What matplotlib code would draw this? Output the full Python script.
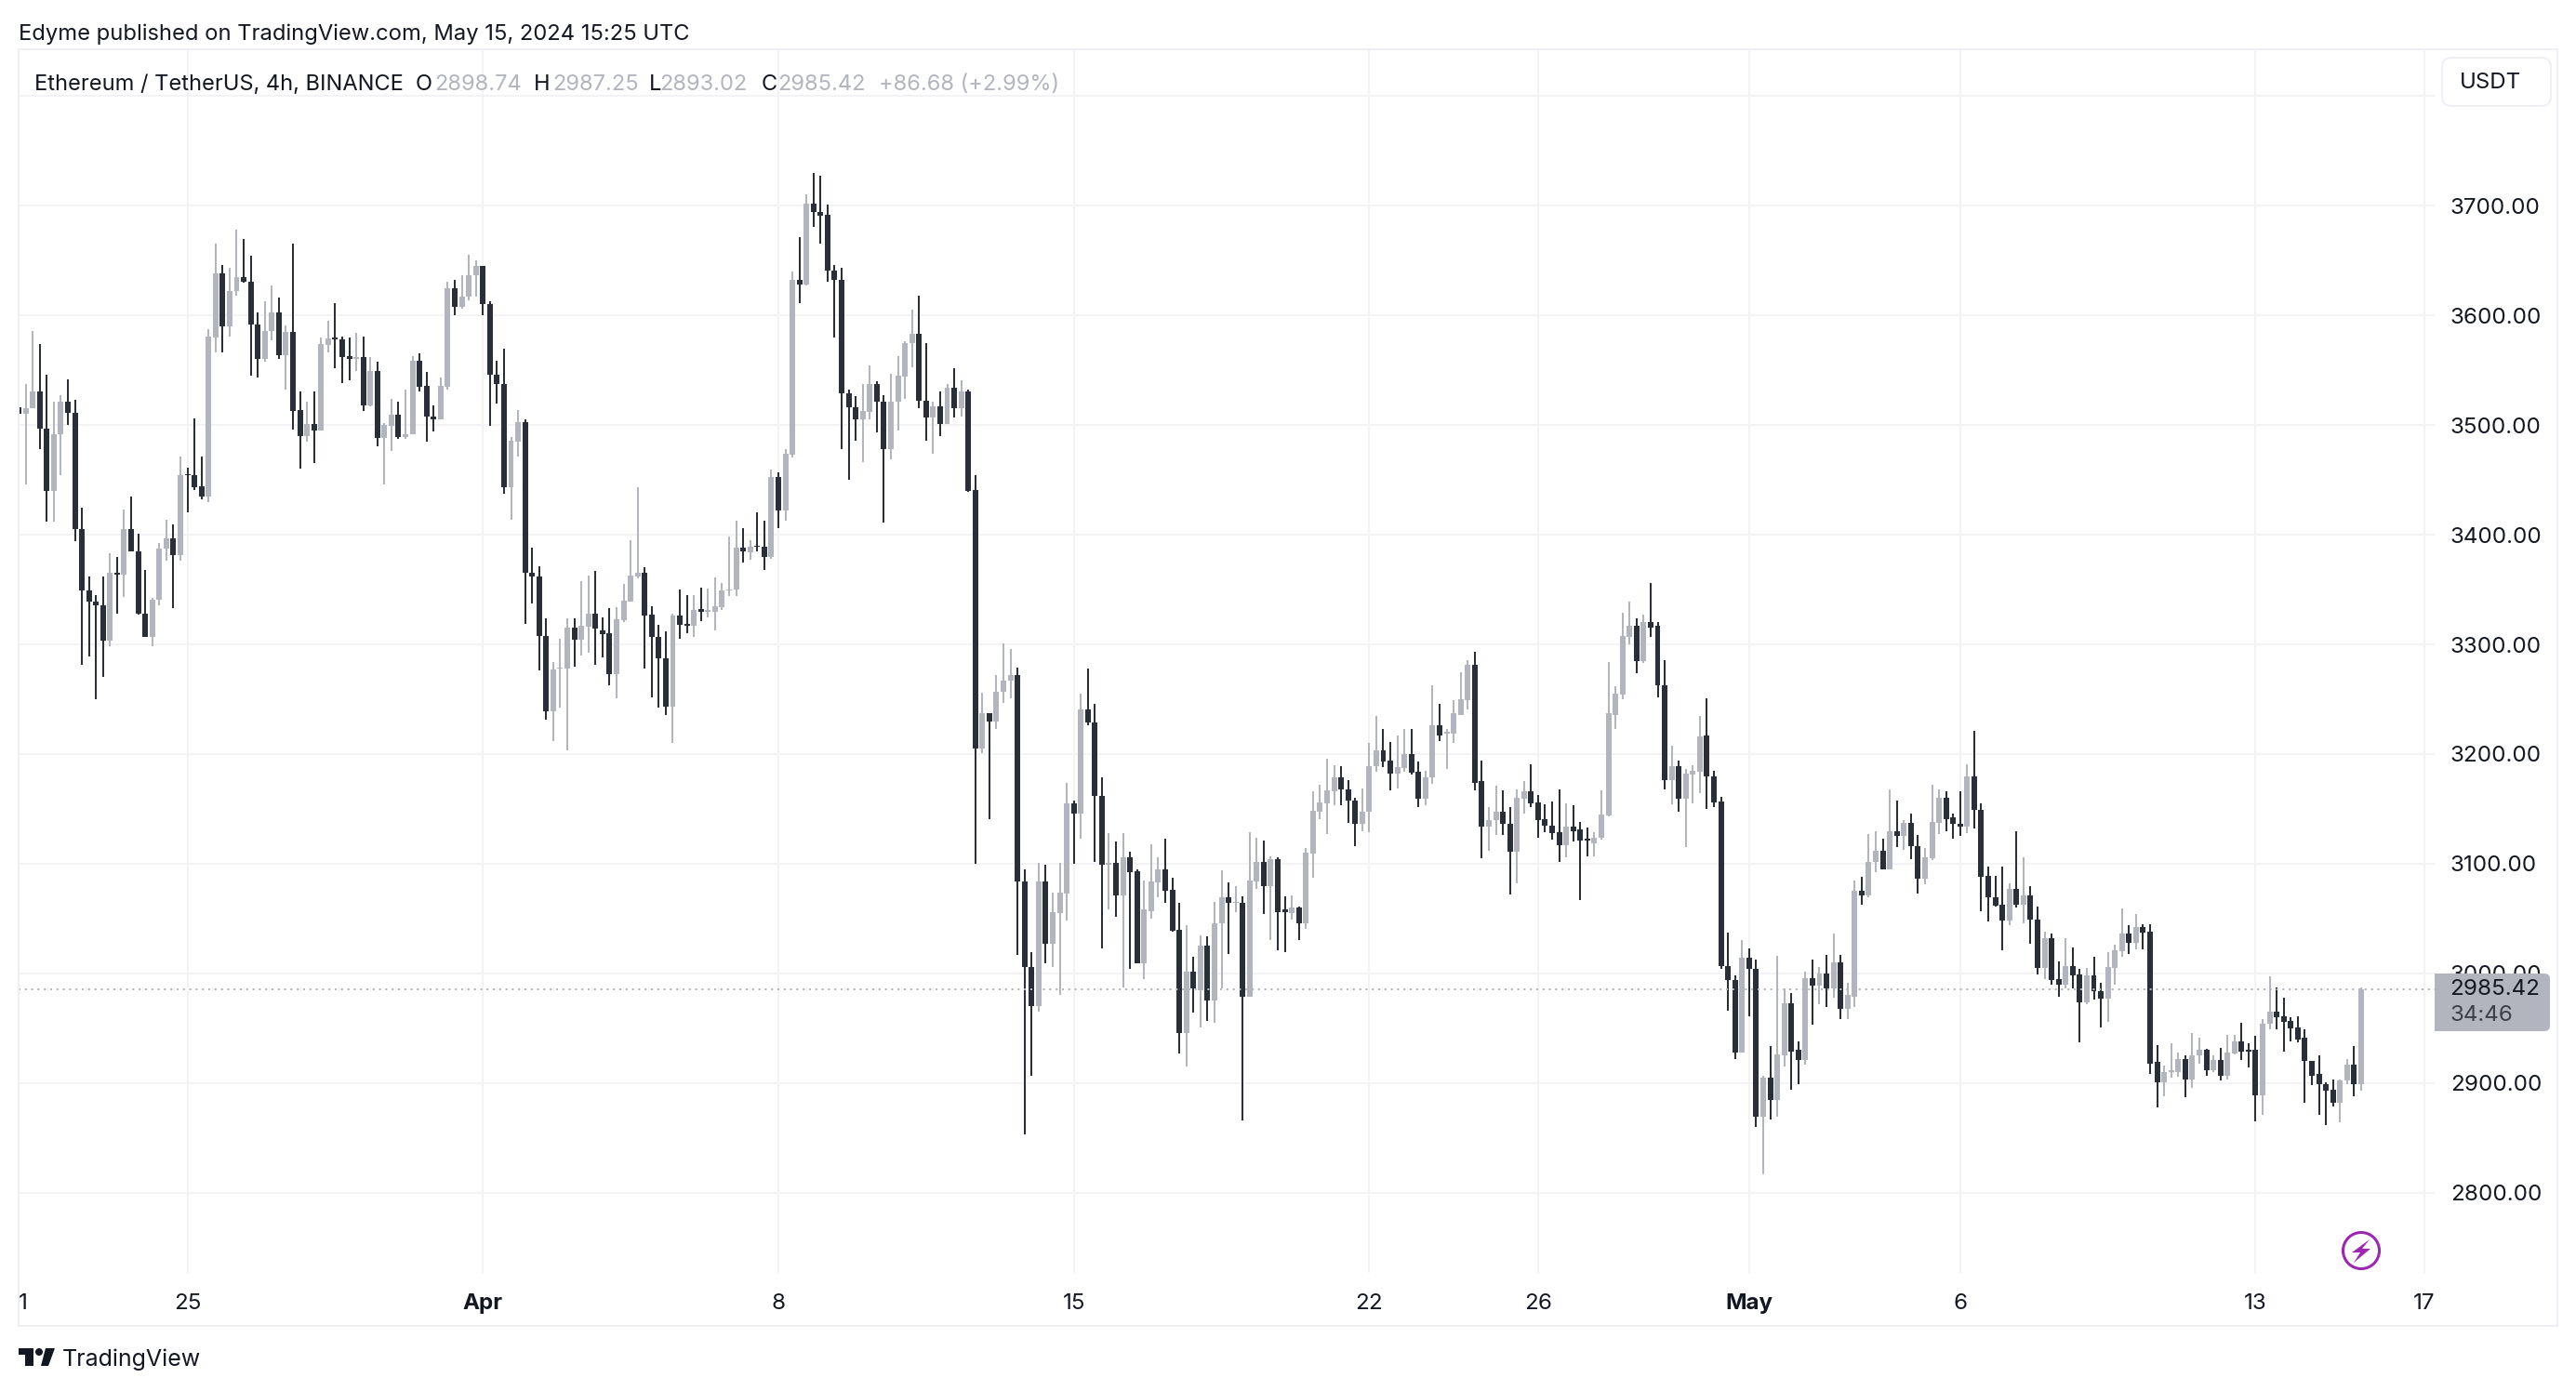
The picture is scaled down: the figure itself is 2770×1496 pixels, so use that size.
import matplotlib
matplotlib.use('Agg')
import matplotlib.pyplot as plt
from matplotlib.patches import Circle, FancyBboxPatch, Polygon, Rectangle

# ETHUSDT 4h candles, 2024-03-21 00:00 onwards
opens = [
    3516, 3510, 3515, 3531, 3497, 3440, 3492, 3521, 3511, 3405,
    3349, 3339, 3336, 3303, 3365, 3364, 3405, 3385, 3328, 3307,
    3341, 3387, 3397, 3381, 3455, 3454, 3444, 3435, 3580, 3638,
    3590, 3622, 3635, 3631, 3592, 3560, 3586, 3603, 3564, 3585,
    3514, 3490, 3501, 3495, 3573, 3580, 3578, 3563, 3560, 3562,
    3518, 3549, 3488, 3499, 3509, 3489, 3492, 3559, 3536, 3508,
    3505, 3535, 3625, 3608, 3617, 3637, 3645, 3610, 3546, 3537,
    3443, 3485, 3503, 3365, 3362, 3308, 3239, 3278, 3278, 3315,
    3304, 3316, 3328, 3313, 3310, 3273, 3322, 3339, 3362, 3365,
    3327, 3307, 3287, 3243, 3326, 3319, 3317, 3332, 3330, 3330,
    3334, 3349, 3350, 3388, 3384, 3390, 3389, 3380, 3453, 3422,
    3473, 3632, 3628, 3702, 3694, 3692, 3641, 3632, 3529, 3516,
    3505, 3512, 3537, 3521, 3478, 3521, 3544, 3575, 3583, 3522,
    3507, 3517, 3501, 3534, 3515, 3531, 3441, 3205, 3237, 3230,
    3257, 3267, 3272, 3084, 3006, 2970, 3084, 3027, 3055, 3073,
    3155, 3146, 3241, 3229, 3162, 3099, 3101, 3071, 3106, 3093,
    3009, 3057, 3083, 3095, 3076, 3040, 2946, 3002, 2985, 3025,
    2975, 3046, 3069, 3064, 3064, 2979, 3084, 3102, 3080, 3104,
    3058, 3055, 3060, 3046, 3109, 3147, 3155, 3166, 3179, 3168,
    3158, 3136, 3147, 3189, 3203, 3194, 3182, 3187, 3200, 3184,
    3159, 3179, 3226, 3219, 3219, 3236, 3249, 3281, 3175, 3134,
    3140, 3147, 3136, 3111, 3159, 3166, 3156, 3141, 3135, 3129,
    3117, 3134, 3131, 3123, 3119, 3124, 3144, 3236, 3254, 3307,
    3317, 3285, 3320, 3317, 3263, 3176, 3189, 3159, 3181, 3184,
    3217, 3180, 3157, 3007, 2994, 2928, 3014, 3004, 2869, 2905,
    2885, 2925, 2973, 2930, 2921, 2996, 2989, 3000, 2986, 3010,
    2968, 2979, 3075, 3071, 3102, 3112, 3095, 3130, 3125, 3137,
    3116, 3086, 3105, 3137, 3160, 3142, 3136, 3134, 3180, 3149,
    3089, 3069, 3063, 3048, 3077, 3063, 3071, 3049, 3005, 3032,
    2995, 2990, 3007, 2999, 2974, 2998, 2984, 2977, 3005, 3020,
    3036, 3028, 3042, 3038, 2919, 2901, 2910, 2910, 2922, 2903,
    2925, 2930, 2912, 2921, 2907, 2927, 2938, 2930, 2930, 2889,
    2954, 2965, 2961, 2957, 2951, 2941, 2920, 2908, 2899, 2894,
    2882, 2902, 2917, 2898.74,
]
highs = [
    3516, 3537, 3586, 3574, 3546, 3521, 3527, 3542, 3523, 3425,
    3362, 3345, 3362, 3383, 3380, 3423, 3435, 3401, 3368, 3342,
    3392, 3414, 3409, 3471, 3461, 3506, 3471, 3587, 3665, 3646,
    3643, 3678, 3670, 3654, 3603, 3613, 3627, 3616, 3591, 3665,
    3531, 3521, 3531, 3580, 3595, 3611, 3581, 3580, 3584, 3581,
    3562, 3558, 3502, 3524, 3521, 3532, 3563, 3565, 3548, 3518,
    3543, 3631, 3632, 3637, 3655, 3650, 3645, 3613, 3559, 3570,
    3489, 3514, 3505, 3388, 3371, 3324, 3284, 3305, 3324, 3324,
    3358, 3363, 3367, 3325, 3333, 3334, 3355, 3395, 3443, 3370,
    3335, 3318, 3312, 3328, 3350, 3345, 3345, 3352, 3351, 3361,
    3356, 3398, 3413, 3406, 3395, 3420, 3413, 3459, 3457, 3478,
    3640, 3671, 3710, 3730, 3727, 3701, 3646, 3643, 3532, 3526,
    3537, 3554, 3540, 3527, 3547, 3563, 3576, 3605, 3618, 3575,
    3521, 3531, 3537, 3552, 3541, 3532, 3454, 3256, 3237, 3272,
    3301, 3296, 3279, 3095, 3019, 3101, 3099, 3074, 3101, 3174,
    3158, 3255, 3278, 3246, 3179, 3128, 3120, 3128, 3111, 3095,
    3085, 3118, 3106, 3123, 3087, 3064, 3044, 3015, 3035, 3034,
    3065, 3094, 3083, 3080, 3070, 3129, 3124, 3121, 3107, 3106,
    3070, 3071, 3061, 3114, 3166, 3172, 3196, 3190, 3189, 3176,
    3160, 3169, 3210, 3235, 3223, 3211, 3217, 3223, 3223, 3193,
    3185, 3263, 3246, 3223, 3249, 3275, 3286, 3293, 3194, 3152,
    3171, 3167, 3152, 3168, 3175, 3191, 3163, 3154, 3157, 3168,
    3155, 3153, 3138, 3133, 3129, 3167, 3284, 3262, 3329, 3339,
    3324, 3327, 3356, 3320, 3286, 3208, 3194, 3186, 3190, 3235,
    3251, 3185, 3161, 3037, 2998, 3030, 3023, 3013, 2907, 2934,
    3016, 2986, 2982, 2938, 3002, 3013, 3006, 3017, 3036, 3017,
    2991, 3085, 3088, 3127, 3130, 3123, 3168, 3158, 3140, 3146,
    3126, 3114, 3172, 3168, 3166, 3146, 3166, 3191, 3221, 3155,
    3097, 3089, 3097, 3082, 3130, 3106, 3080, 3061, 3038, 3036,
    3011, 3032, 3024, 3004, 3005, 3015, 2991, 3019, 3026, 3059,
    3044, 3054, 3045, 3045, 2935, 2916, 2936, 2928, 2925, 2946,
    2941, 2931, 2925, 2932, 2944, 2944, 2955, 2936, 2943, 2958,
    2997, 2987, 2978, 2960, 2961, 2949, 2920, 2925, 2901, 2903,
    2903, 2922, 2934, 2987.25,
]
lows = [
    3510, 3446, 3515, 3478, 3412, 3412, 3454, 3500, 3394, 3281,
    3289, 3250, 3270, 3298, 3328, 3343, 3385, 3327, 3307, 3298,
    3336, 3376, 3333, 3376, 3420, 3441, 3432, 3430, 3566, 3566,
    3581, 3618, 3630, 3545, 3543, 3558, 3577, 3560, 3532, 3496,
    3460, 3485, 3465, 3495, 3566, 3552, 3538, 3541, 3549, 3513,
    3517, 3481, 3446, 3476, 3487, 3487, 3492, 3531, 3485, 3494,
    3505, 3532, 3600, 3606, 3614, 3617, 3600, 3499, 3520, 3437,
    3414, 3471, 3319, 3337, 3276, 3231, 3212, 3242, 3203, 3280,
    3290, 3292, 3281, 3288, 3263, 3251, 3320, 3339, 3360, 3278,
    3252, 3242, 3236, 3210, 3305, 3310, 3307, 3321, 3325, 3313,
    3331, 3344, 3344, 3375, 3377, 3385, 3368, 3378, 3406, 3413,
    3470, 3611, 3627, 3681, 3665, 3631, 3580, 3478, 3450, 3486,
    3466, 3505, 3493, 3411, 3469, 3495, 3524, 3553, 3515, 3486,
    3474, 3490, 3501, 3507, 3508, 3439, 3100, 3201, 3141, 3223,
    3247, 3251, 3017, 2853, 2907, 2965, 3009, 3006, 2980, 3048,
    3100, 3123, 3226, 3102, 3023, 3058, 3052, 2987, 3004, 3009,
    2995, 3050, 3069, 3064, 3038, 2927, 2915, 2964, 2951, 2957,
    2955, 2986, 3018, 3056, 2866, 2979, 3077, 3054, 3030, 3021,
    3019, 3049, 3030, 3041, 3087, 3141, 3127, 3153, 3153, 3137,
    3116, 3130, 3129, 3184, 3188, 3167, 3169, 3184, 3181, 3152,
    3153, 3173, 3212, 3186, 3210, 3236, 3241, 3167, 3105, 3112,
    3126, 3126, 3072, 3082, 3146, 3152, 3124, 3129, 3122, 3102,
    3106, 3120, 3067, 3107, 3107, 3122, 3143, 3223, 3250, 3300,
    3274, 3283, 3307, 3252, 3168, 3154, 3147, 3115, 3155, 3164,
    3150, 3152, 3004, 2966, 2922, 2928, 2961, 2860, 2817, 2867,
    2869, 2915, 2894, 2899, 2917, 2953, 2972, 2969, 2978, 2958,
    2958, 2969, 3063, 3069, 3092, 3095, 3095, 3115, 3113, 3104,
    3073, 3081, 3103, 3127, 3130, 3123, 3125, 3128, 3132, 3057,
    3047, 3061, 3021, 3044, 3060, 3046, 3027, 2999, 2995, 2990,
    2979, 2986, 2986, 2937, 2972, 2976, 2951, 2956, 2990, 3015,
    3018, 3022, 3022, 2908, 2878, 2888, 2905, 2906, 2887, 2896,
    2918, 2907, 2910, 2902, 2903, 2926, 2921, 2914, 2865, 2871,
    2949, 2949, 2929, 2938, 2937, 2882, 2898, 2871, 2862, 2879,
    2864, 2899, 2888, 2893.02,
]
closes = [
    3510, 3515, 3531, 3497, 3440, 3492, 3521, 3511, 3405, 3349,
    3339, 3336, 3303, 3365, 3364, 3405, 3385, 3328, 3307, 3341,
    3387, 3397, 3381, 3454, 3454, 3443, 3435, 3581, 3638, 3590,
    3622, 3635, 3631, 3592, 3560, 3586, 3603, 3564, 3585, 3513,
    3490, 3501, 3495, 3574, 3579, 3578, 3562, 3560, 3562, 3518,
    3549, 3488, 3500, 3509, 3489, 3492, 3559, 3535, 3508, 3505,
    3536, 3625, 3608, 3617, 3637, 3645, 3610, 3546, 3537, 3443,
    3486, 3503, 3365, 3362, 3308, 3239, 3277, 3279, 3315, 3304,
    3317, 3328, 3314, 3309, 3273, 3323, 3340, 3363, 3365, 3326,
    3307, 3287, 3243, 3326, 3318, 3317, 3331, 3330, 3331, 3335,
    3349, 3350, 3388, 3385, 3389, 3389, 3380, 3453, 3422, 3474,
    3632, 3628, 3702, 3694, 3691, 3641, 3632, 3529, 3516, 3505,
    3513, 3537, 3521, 3478, 3521, 3545, 3575, 3583, 3522, 3507,
    3517, 3501, 3534, 3515, 3531, 3440, 3205, 3237, 3230, 3257,
    3267, 3272, 3084, 3006, 2970, 3084, 3027, 3056, 3074, 3155,
    3146, 3241, 3229, 3162, 3099, 3101, 3071, 3106, 3092, 3009,
    3058, 3084, 3095, 3075, 3039, 2946, 3002, 2986, 3025, 2975,
    3046, 3069, 3064, 3065, 2979, 3085, 3102, 3080, 3104, 3056,
    3056, 3060, 3046, 3110, 3148, 3156, 3167, 3179, 3168, 3158,
    3136, 3147, 3189, 3203, 3193, 3182, 3188, 3200, 3183, 3159,
    3179, 3226, 3217, 3220, 3237, 3250, 3281, 3174, 3134, 3140,
    3147, 3136, 3111, 3160, 3166, 3155, 3140, 3135, 3128, 3117,
    3134, 3130, 3121, 3121, 3124, 3145, 3237, 3255, 3308, 3317,
    3285, 3320, 3315, 3263, 3176, 3189, 3159, 3182, 3185, 3216,
    3180, 3156, 3007, 2994, 2928, 3014, 3004, 2869, 2905, 2885,
    2926, 2973, 2929, 2921, 2996, 2989, 3000, 2986, 3010, 2968,
    2980, 3075, 3071, 3102, 3112, 3095, 3130, 3125, 3137, 3116,
    3086, 3106, 3138, 3160, 3141, 3136, 3134, 3180, 3149, 3088,
    3069, 3062, 3048, 3077, 3063, 3071, 3049, 3005, 3032, 2994,
    2990, 3007, 2998, 2974, 2998, 2984, 2977, 3006, 3021, 3036,
    3028, 3042, 3037, 2918, 2901, 2910, 2912, 2922, 2903, 2925,
    2930, 2912, 2921, 2907, 2928, 2938, 2929, 2929, 2889, 2954,
    2965, 2960, 2956, 2950, 2940, 2920, 2907, 2899, 2893, 2882,
    2902, 2917, 2899, 2985.42,
]

# date ticks sit on candle numbers (6 candles a day)
date_ticks = [0, 24, 66, 108, 150, 192, 216, 246, 276, 318, 342]
date_labels = ['1', '25', 'Apr', '8', '15', '22', '26', 'May', '6', '13', '17']
price_ticks = [2800, 2900, 3000, 3100, 3200, 3300, 3400, 3500, 3600, 3700, 3800]
last_price = 2985.42

DARK = '#2a2e39'
GREY = '#b2b5be'
TEXT = '#131722'
GRID = '#f3f3f5'
FRAME = '#eeeff5'

W, H = 2770, 1496
plt.rcParams['font.family'] = ['Inter', 'DejaVu Sans']
fig = plt.figure(figsize=(W / 100, H / 100), dpi=100, facecolor='white')

# main pane, from x=20 to 2618 and y=53 to 1369 in picture pixels
ax = fig.add_axes([20 / W, 1 - 1369 / H, 2598 / W, 1316 / H])
ax.set_xlim(0.08, 343.45)
ax.set_ylim(2726.9, 3842.6)
for s in ax.spines.values():
    s.set_visible(False)
ax.set_axisbelow(True)
ax.grid(True, color=GRID, lw=1.44)

xs = list(range(len(opens)))
colors = [GREY if c >= o else DARK for o, c in zip(opens, closes)]
ax.vlines(xs, lows, highs, colors=colors, lw=1.44, zorder=3)
ax.bar(xs, [abs(c - o) for o, c in zip(opens, closes)],
       bottom=[min(o, c) for o, c in zip(opens, closes)],
       width=0.79, color=colors, lw=0, zorder=3)
ax.axhline(last_price, color=GREY, lw=1.44, ls=(0, (1.0, 2.4)), zorder=4)

ax.yaxis.tick_right()
ax.set_yticks(price_ticks)
ax.set_yticklabels(['%.2f' % p if p < 3800 else '' for p in price_ticks])
ax.tick_params(axis='y', length=0, pad=12, labelsize=17.4, labelcolor=TEXT)
ax.set_xticks(date_ticks)
ax.set_xticklabels(date_labels)
ax.tick_params(axis='x', length=0, pad=16, labelsize=17.4, labelcolor=TEXT)
for lab in ax.get_xticklabels():
    if lab.get_text() in ('Apr', 'May'):
        lab.set_fontweight('bold')
ax.get_xticklabels()[0].set_ha('left')

# everything around the pane, in picture pixels
ov = fig.add_axes([0, 0, 1, 1], facecolor='none')
ov.set_xlim(0, W)
ov.set_ylim(H, 0)
ov.axis('off')

ov.add_patch(Rectangle((20, 53), 2730, 1373, fill=False, ec=FRAME, lw=1.44))
ov.add_patch(FancyBboxPatch((2626 + 10, 62 + 10), 117 - 20, 52 - 20,
                            boxstyle='round,pad=10,rounding_size=10',
                            fc='white', ec=FRAME, lw=1.44))
ov.text(2645, 88.5, 'USDT', fontsize=17.3, color=TEXT, va='center')

ov.text(20, 36.5, 'Edyme published on TradingView.com, May 15, 2024 15:25 UTC',
        fontsize=17.1, color=TEXT, va='center')

header = [
    (37, 'Ethereum / TetherUS, 4h, BINANCE', TEXT),
    (447, 'O', TEXT), (467, '2898.74', GREY),
    (574, 'H', TEXT), (594, '2987.25', GREY),
    (698, 'L', TEXT), (709, '2893.02', GREY),
    (819, 'C', TEXT), (836, '2985.42', GREY),
    (945, '+86.68 (+2.99%)', GREY),
]
for x, s, c in header:
    ov.text(x, 91, s, fontsize=17, color=c, va='center')

# last price tag
ov.add_patch(FancyBboxPatch((2618 + 6, 1047 + 6), 124 - 12, 62 - 12,
                            boxstyle='round,pad=6,rounding_size=6', fc=GREY, lw=0))
ov.add_patch(Rectangle((2618, 1047), 20, 62, fc=GREY, lw=0))
ov.text(2634.5, 1064.5, '2985.42', fontsize=17.4, color=TEXT, va='center')
ov.text(2634.5, 1092.5, '34:46', fontsize=17.4, color='#3c3f48', va='center')

# flash icon
ov.add_patch(Circle((2539, 1345), 19.5, fill=False, ec='#9c27b0', lw=2.2))
ov.add_patch(Polygon([(2548, 1333), (2529, 1347), (2538, 1347),
                      (2531, 1358), (2549, 1343), (2540, 1343)],
                     fc='#9c27b0', lw=0))

# logo
LOGO = '#131722'
ov.add_patch(Polygon([(20, 1450), (36, 1450), (36, 1469), (27, 1469), (27, 1457), (20, 1457)],
                     fc=LOGO, lw=0))
ov.add_patch(Circle((42, 1454), 4, fc=LOGO, lw=0))
ov.add_patch(Polygon([(49, 1450), (59, 1450), (52, 1469), (44, 1469)], fc=LOGO, lw=0))
ov.text(67, 1462, 'TradingView', fontsize=18, color=TEXT, va='center')

fig.savefig('out.png', dpi=100, facecolor='white')
